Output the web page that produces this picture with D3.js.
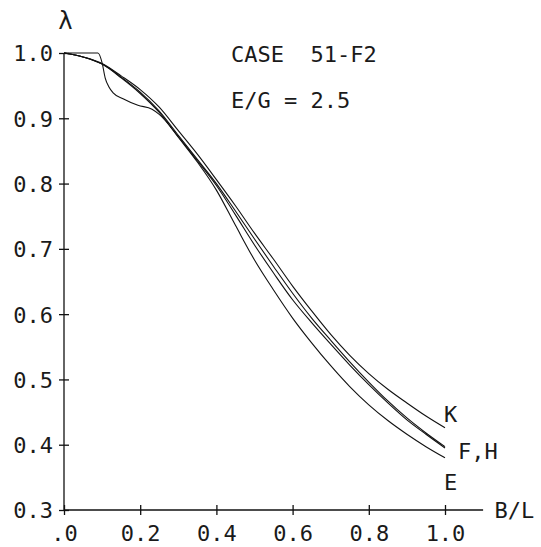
<!DOCTYPE html>
<html><head><meta charset="utf-8">
<script src="https://cdn.jsdelivr.net/npm/d3@7"></script>
<style>
html,body{margin:0;padding:0;background:#fff;}
text{font-family:"DejaVu Sans Mono",monospace;fill:#1a1a1a;}
</style></head>
<body><svg id="c" width="541" height="547"></svg>
<script>
// ---- data ----
const blGrid = [0,0.05,0.1,0.15,0.2,0.25,0.3,0.35,0.4,0.45,0.5,0.55,0.6,0.65,0.7,0.75,0.8,0.85,0.9,0.95,1.0];
const lambdaK = [1.0,0.994,0.984,0.965,0.944,0.917,0.881,0.845,0.806,0.766,0.724,0.684,0.643,0.605,0.569,0.537,0.509,0.485,0.464,0.444,0.426];
const lambdaF = [1.0,0.994,0.983,0.963,0.940,0.911,0.874,0.837,0.800,0.758,0.715,0.673,0.632,0.594,0.560,0.527,0.496,0.467,0.441,0.418,0.397];
const lambdaE = [1.0,0.994,0.983,0.962,0.938,0.909,0.871,0.833,0.790,0.736,0.683,0.637,0.594,0.556,0.521,0.489,0.461,0.437,0.416,0.397,0.380];
const blH = [0,0.05,0.089,0.1,0.108,0.118,0.129,0.155,0.194,0.231,0.25,0.3,0.35,0.4,0.45,0.5,0.55,0.6,0.65,0.7,0.75,0.8,0.85,0.9,0.95,1.0];
const lambdaH = [1.0,1.0,1.0,0.985,0.962,0.948,0.939,0.930,0.920,0.914,0.906,0.872,0.835,0.797,0.752,0.706,0.663,0.622,0.587,0.554,0.522,0.492,0.464,0.438,0.416,0.395];
const xTicks = [0,0.2,0.4,0.6,0.8,1.0];
const xTickLabels = [".0","0.2","0.4","0.6","0.8","1.0"];
const yTicks = [0.3,0.4,0.5,0.6,0.7,0.8,0.9,1.0];
const yTickLabels = ["0.3","0.4","0.5","0.6","0.7","0.8","0.9","1.0"];
const curveLabels = [{t:"K", v:0.426, dy:-12}, {t:"F,H", v:0.396, dy:6}, {t:"E", v:0.380, dy:26}];
const titleLines = ["CASE  51-F2", "E/G = 2.5"];

// ---- drawing ----
const svg = d3.select("#c");
const x = d3.scaleLinear().domain([0,1]).range([64,445]);
const y = d3.scaleLinear().domain([0.3,1.0]).range([510,53]);
const fs = 22;

// axes lines
svg.append("line").attr("x1",x(0)).attr("x2",x(1.1)).attr("y1",y(0.3)).attr("y2",y(0.3)).attr("stroke","#111").attr("stroke-width",1.3);
svg.append("line").attr("x1",x(0)).attr("x2",x(0)).attr("y1",y(0.3)).attr("y2",y(1.0)).attr("stroke","#111").attr("stroke-width",1.3);

const xa = svg.append("g").attr("transform",`translate(0,${y(0.3)})`)
  .call(d3.axisBottom(x).tickValues(xTicks).tickFormat((d,i)=>xTickLabels[i]).tickSize(5).tickPadding(0));
xa.select(".domain").remove();
xa.selectAll(".tick line").attr("y1",-5).attr("y2",5).attr("stroke","#111").attr("stroke-width",1.3);
xa.selectAll(".tick text").attr("font-size",fs).attr("font-family","DejaVu Sans Mono").attr("dy",null).attr("y",31).attr("fill","#1a1a1a");

const ya = svg.append("g").attr("transform",`translate(${x(0)},0)`)
  .call(d3.axisLeft(y).tickValues(yTicks).tickFormat((d,i)=>yTickLabels[i]).tickSize(5).tickPadding(0));
ya.select(".domain").remove();
ya.selectAll(".tick line").attr("x1",-5).attr("x2",5).attr("stroke","#111").attr("stroke-width",1.3);
ya.selectAll(".tick text").attr("font-size",fs).attr("font-family","DejaVu Sans Mono").attr("dy","0.36em").attr("x",-11).attr("fill","#1a1a1a");

// curves
const line = d3.line().x(d=>x(d[0])).y(d=>y(d[1])).curve(d3.curveMonotoneX);
const series = [
  [blGrid, lambdaK], [blGrid, lambdaF], [blGrid, lambdaE], [blH, lambdaH]
];
series.forEach(([xs, ys])=>{
  svg.append("path").datum(xs.map((v,i)=>[v, ys[i]]))
    .attr("d", line).attr("fill","none").attr("stroke","#111").attr("stroke-width",1.1);
});

// labels
curveLabels.forEach(c=>{
  svg.append("text").attr("x", x(1.0)+ (c.t==="F,H"?13:-1)).attr("y", y(c.v)+c.dy)
    .attr("font-size",fs).attr("dominant-baseline","middle").text(c.t);
});
svg.append("text").attr("x",x(1.13)).attr("y",y(0.3)).attr("dy","0.36em").attr("font-size",fs).text("B/L");
svg.append("text").attr("x",x(-0.015)).attr("y",y(1.0)-33).attr("dy","0.36em").attr("font-size",24).text("λ");
titleLines.forEach((t,i)=>{
  svg.append("text").attr("x",231).attr("y",62+i*46).attr("font-size",fs).attr("xml:space","preserve").style("white-space","pre").text(t);
});
</script></body></html>
